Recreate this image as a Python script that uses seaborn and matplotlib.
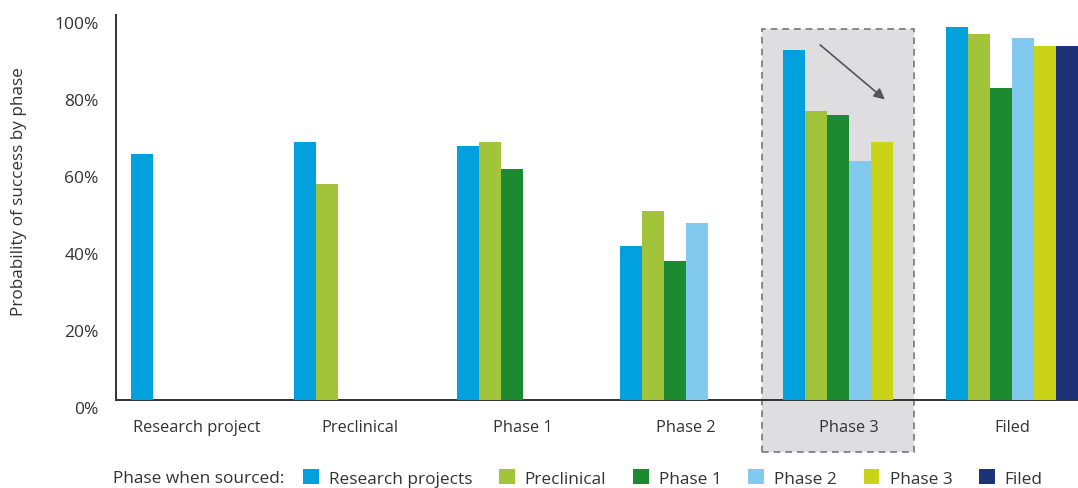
# Probability of success by phase, grouped by the phase when the asset was sourced
import numpy as np
import pandas as pd
import matplotlib
matplotlib.use("Agg")
import matplotlib.pyplot as plt
import matplotlib.transforms as mtransforms
from matplotlib.patches import Patch, Rectangle
from matplotlib.ticker import PercentFormatter
import seaborn as sns

nan = np.nan

phases = ["Research project", "Preclinical", "Phase 1", "Phase 2", "Phase 3", "Filed"]
sourced = ["Research projects", "Preclinical", "Phase 1", "Phase 2", "Phase 3", "Filed"]

# values per "phase when sourced" series, one per phase on the x axis (%)
research_projects = [64, 67, 66, 40, 91, 97]
preclinical = [nan, 56, 67, 49, 75, 95]
phase_1 = [nan, nan, 60, 36, 74, 81]
phase_2 = [nan, nan, nan, 46, 62, 94]
phase_3 = [nan, nan, nan, nan, 67, 92]
filed = [nan, nan, nan, nan, nan, 92]

colors = ["#00a1dc", "#a2c43a", "#1b8a31", "#82caed", "#cad318", "#1c3377"]
ytick_vals = [0, 20, 40, 60, 80, 100]

series = [research_projects, preclinical, phase_1, phase_2, phase_3, filed]
rows = []
for name, vals in zip(sourced, series):
    for ph, v in zip(phases, vals):
        rows.append({"phase": ph, "sourced": name, "value": v})
df = pd.DataFrame(rows).dropna()

sns.set_style("white")
plt.rcParams["font.family"] = ["Open Sans", "DejaVu Sans"]
txt = "#333333"

fig = plt.figure(figsize=(10.78, 4.89), dpi=100)
ax = fig.add_axes([115.5 / 1078, 88 / 489, (1078 - 115.5) / 1078, 385 / 489])

sns.barplot(data=df, x="phase", y="value", hue="sourced", order=phases,
            hue_order=sourced, palette=colors, saturation=1, width=0.81,
            errorbar=None, legend=False, linewidth=0, ax=ax, zorder=3)

ax.set_xlim(-0.5, 5.405)
ax.set_ylim(0, 100)
ax.set_yticks(ytick_vals)
ax.yaxis.set_major_formatter(PercentFormatter(decimals=0))
ax.set_xlabel("")
ax.set_ylabel("Probability of success by phase", fontsize=12.3, color=txt)
ax.yaxis.set_label_coords(-0.092, 0.545)
ax.tick_params(axis="both", length=0, labelcolor=txt)
ax.tick_params(axis="y", pad=12, labelsize=12.5)
ax.tick_params(axis="x", pad=14, labelsize=11.8)
for lab in ax.get_yticklabels():
    lab.set_transform(lab.get_transform() + mtransforms.ScaledTranslation(0, -0.07, fig.dpi_scale_trans))

sns.despine(ax=ax)
for s in ["left", "bottom"]:
    ax.spines[s].set_color("#333333")
    ax.spines[s].set_linewidth(1.4)

# highlight box around Phase 3
trans = mtransforms.blended_transform_factory(ax.transData, ax.transAxes)
box = Rectangle((3.466, -0.135), 0.933, 1.099, transform=trans, facecolor="#dedee0",
                edgecolor="#777777", linestyle=(0, (4, 3)), linewidth=1.2,
                clip_on=False, zorder=0.5)
ax.add_patch(box)
ax.annotate("", xy=(4.233, 77.6), xytext=(3.81, 92.7),
            arrowprops=dict(arrowstyle="-|>", color="#555555", lw=1.2,
                            mutation_scale=16), zorder=4)

# legend
fig.text(113 / 1078, 1 - 479 / 489, "Phase when sourced:", fontsize=12.4, color=txt,
         va="center", ha="left")
handles = [Patch(facecolor=c, edgecolor="none", label=l) for c, l in zip(colors, sourced)]
leg = fig.legend(handles=handles, ncol=6, frameon=False, loc="center left",
                 bbox_to_anchor=(303 / 1078, 1 - 479 / 489), borderpad=0, borderaxespad=0,
                 handlelength=0.9, handleheight=0.9, handletextpad=0.6,
                 columnspacing=1.55, fontsize=12.4)
for t in leg.get_texts():
    t.set_color(txt)

fig.savefig("out.png", dpi=100)
